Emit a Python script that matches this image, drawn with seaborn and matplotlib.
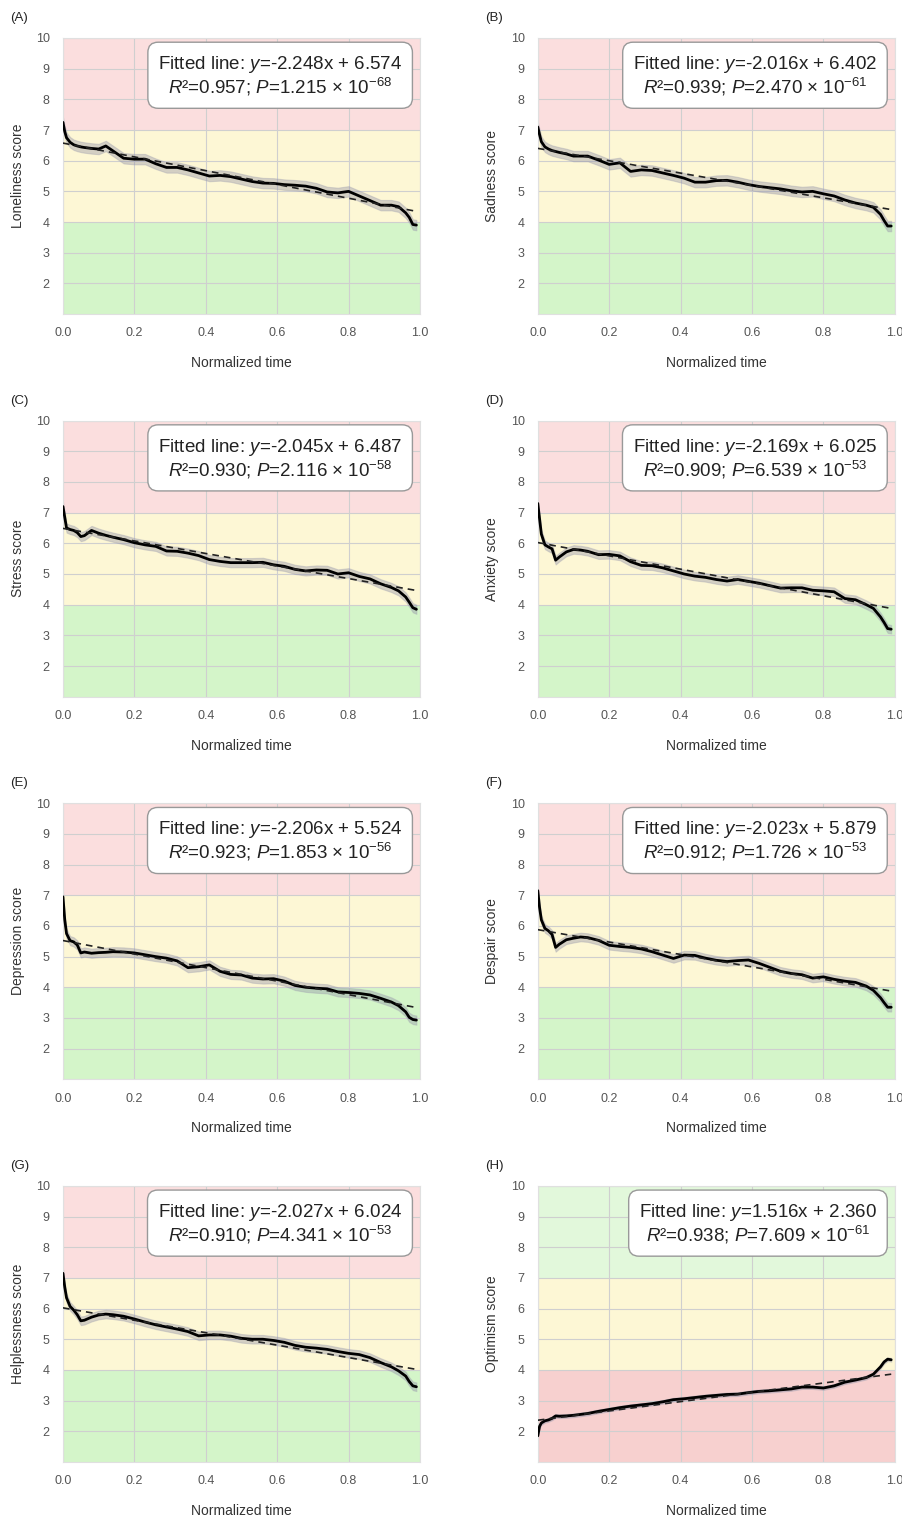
import pandas as pd
import seaborn as sns
import matplotlib.pyplot as plt

# 横軸 (正規化時間)
time_points = [0.0, 0.005, 0.01, 0.02, 0.03, 0.04, 0.05, 0.06, 0.08, 0.10, 0.12, 0.14,
               0.17, 0.20, 0.23, 0.26, 0.29, 0.32, 0.35, 0.38, 0.41, 0.44, 0.47, 0.50,
               0.53, 0.56, 0.59, 0.62, 0.65, 0.68, 0.71, 0.74, 0.77, 0.80, 0.83, 0.86,
               0.89, 0.92, 0.94, 0.96, 0.97, 0.98, 0.99]

loneliness = [7.25, 6.95, 6.75, 6.6, 6.52, 6.48, 6.45, 6.43, 6.4, 6.38, 6.48, 6.32,
              6.08, 6.05, 6.05, 5.9, 5.78, 5.78, 5.7, 5.6, 5.5, 5.52, 5.48, 5.4,
              5.32, 5.27, 5.26, 5.22, 5.2, 5.17, 5.1, 4.98, 4.95, 5.0, 4.85, 4.7,
              4.55, 4.55, 4.5, 4.3, 4.15, 3.92, 3.9]
sadness = [7.1, 6.85, 6.62, 6.45, 6.38, 6.33, 6.3, 6.27, 6.22, 6.15, 6.15, 6.15,
           6.02, 5.88, 5.93, 5.65, 5.7, 5.68, 5.6, 5.52, 5.43, 5.3, 5.3, 5.35,
           5.36, 5.3, 5.22, 5.16, 5.12, 5.08, 5.02, 4.98, 5.0, 4.92, 4.85, 4.72,
           4.62, 4.55, 4.48, 4.25, 4.05, 3.87, 3.87]
stress = [7.2, 6.85, 6.5, 6.45, 6.42, 6.35, 6.22, 6.25, 6.42, 6.33, 6.26, 6.2,
          6.12, 6.02, 5.95, 5.9, 5.75, 5.74, 5.68, 5.6, 5.47, 5.41, 5.37, 5.37,
          5.37, 5.38, 5.3, 5.25, 5.15, 5.1, 5.13, 5.12, 5.0, 5.04, 4.92, 4.84,
          4.68, 4.56, 4.45, 4.25, 4.08, 3.9, 3.85]
anxiety = [7.3, 6.8, 6.3, 5.95, 5.88, 5.82, 5.45, 5.55, 5.72, 5.8, 5.78, 5.74,
           5.63, 5.64, 5.59, 5.4, 5.28, 5.27, 5.2, 5.1, 5.0, 4.93, 4.89, 4.82,
           4.77, 4.82, 4.76, 4.7, 4.62, 4.54, 4.55, 4.55, 4.47, 4.45, 4.42, 4.2,
           4.16, 4.0, 3.88, 3.6, 3.42, 3.22, 3.2]
depression = [6.95, 6.2, 5.75, 5.52, 5.48, 5.38, 5.12, 5.15, 5.11, 5.13, 5.14, 5.16,
              5.15, 5.12, 5.06, 5.0, 4.95, 4.86, 4.64, 4.67, 4.73, 4.52, 4.42, 4.4,
              4.3, 4.27, 4.28, 4.2, 4.06, 4.0, 3.97, 3.95, 3.85, 3.83, 3.8, 3.75,
              3.64, 3.52, 3.4, 3.2, 3.02, 2.95, 2.93]
despair = [7.15, 6.6, 6.2, 5.92, 5.84, 5.72, 5.3, 5.4, 5.55, 5.6, 5.64, 5.62,
           5.53, 5.37, 5.33, 5.3, 5.25, 5.16, 5.05, 4.94, 5.05, 5.04, 4.95, 4.88,
           4.84, 4.87, 4.89, 4.78, 4.65, 4.52, 4.45, 4.41, 4.3, 4.34, 4.26, 4.2,
           4.16, 4.04, 3.9, 3.66, 3.5, 3.35, 3.35]
helplessness = [7.15, 6.7, 6.35, 6.07, 5.95, 5.8, 5.6, 5.62, 5.72, 5.79, 5.82, 5.8,
                5.75, 5.66, 5.56, 5.47, 5.4, 5.33, 5.25, 5.11, 5.14, 5.14, 5.1, 5.03,
                5.0, 5.0, 4.96, 4.9, 4.8, 4.74, 4.71, 4.67, 4.6, 4.54, 4.5, 4.4,
                4.24, 4.1, 3.97, 3.8, 3.62, 3.48, 3.45]
optimism = [1.85, 2.16, 2.27, 2.34, 2.37, 2.42, 2.5, 2.49, 2.5, 2.52, 2.55, 2.58,
            2.65, 2.71, 2.77, 2.82, 2.86, 2.9, 2.96, 3.03, 3.06, 3.1, 3.14, 3.17,
            3.2, 3.21, 3.26, 3.3, 3.32, 3.35, 3.38, 3.44, 3.44, 3.41, 3.48, 3.6,
            3.67, 3.75, 3.86, 4.1, 4.26, 4.35, 4.33]

panel_labels = ['(A)', '(B)', '(C)', '(D)', '(E)', '(F)', '(G)', '(H)']
score_names = ['Loneliness score', 'Sadness score', 'Stress score', 'Anxiety score',
               'Depression score', 'Despair score', 'Helplessness score', 'Optimism score']
series = [loneliness, sadness, stress, anxiety, depression, despair, helplessness, optimism]
ci_half = [0.17, 0.17, 0.15, 0.14, 0.15, 0.14, 0.14, 0.06]
slopes = [-2.248, -2.016, -2.045, -2.169, -2.206, -2.023, -2.027, 1.516]
intercepts = [6.574, 6.402, 6.487, 6.025, 5.524, 5.879, 6.024, 2.360]
r_squared = ['0.957', '0.939', '0.930', '0.909', '0.923', '0.912', '0.910', '0.938']
p_mantissa = ['1.215', '2.470', '2.116', '6.539', '1.853', '1.726', '4.341', '7.609']
p_exponent = ['-68', '-61', '-58', '-53', '-56', '-53', '-53', '-61']

# 帯の色 (上 7-10, 中 4-7, 下 1-4)
bands_negative = ['#fbdede', '#fdf7d5', '#d4f5c9']
bands_positive = ['#e2f8db', '#fdf7d5', '#f7d0cf']

sns.set_style("whitegrid")
plt.rcParams['font.family'] = ['Liberation Sans', 'DejaVu Sans']
plt.rcParams['mathtext.fontset'] = 'custom'
plt.rcParams['mathtext.rm'] = 'Liberation Sans'
plt.rcParams['mathtext.it'] = 'Liberation Sans:italic'
plt.rcParams['mathtext.bf'] = 'Liberation Sans:bold'

fig, axes = plt.subplots(4, 2, figsize=(9.02, 15.2), dpi=100)
fig.subplots_adjust(left=0.0698, right=0.992, top=0.975, bottom=0.0382,
                    wspace=0.33, hspace=0.386)

for i, ax in enumerate(axes.flat):
    df = pd.DataFrame({'time': time_points, 'score': series[i]})
    df['lo'] = df['score'] - ci_half[i]
    df['hi'] = df['score'] + ci_half[i]
    df['fit'] = slopes[i] * df['time'] + intercepts[i]

    colors = bands_positive if i == 7 else bands_negative
    ax.axhspan(7, 10, color=colors[0], zorder=0, lw=0)
    ax.axhspan(4, 7, color=colors[1], zorder=0, lw=0)
    ax.axhspan(1, 4, color=colors[2], zorder=0, lw=0)

    ax.fill_between(df['time'], df['lo'], df['hi'], color='#8f8fa6', alpha=0.38,
                    lw=0.8, edgecolor='#a0a0b0', zorder=2)
    sns.lineplot(x='time', y='score', data=df, ax=ax, color='black', lw=2, zorder=3)
    sns.lineplot(x='time', y='fit', data=df, ax=ax, color='#222222', lw=1.2,
                 linestyle=(0, (4, 3)), zorder=4)

    ax.set_xlim(0, 1)
    ax.set_ylim(1, 10)
    ax.set_xticks([0.0, 0.2, 0.4, 0.6, 0.8, 1.0])
    ax.set_xticklabels(['0.0', '0.2', '0.4', '0.6', '0.8', '1.0'])
    ax.set_yticks(range(2, 11))
    ax.tick_params(labelsize=9, colors='#555555', pad=6)
    ax.grid(True, color='#cfcfcf', lw=0.8, zorder=1)
    ax.set_axisbelow(True)
    for sp in ax.spines.values():
        sp.set_color('#e0e0e0')

    ax.set_xlabel('Normalized time', fontsize=10, color='#333333', labelpad=12)
    ax.set_ylabel(score_names[i], fontsize=10, color='#333333', labelpad=8)

    ax.text(-0.148, 1.072, panel_labels[i], transform=ax.transAxes, fontsize=9.5,
            color='#222222', ha='left', va='center')

    txt = (f"Fitted line: $y$={slopes[i]:.3f}x + {intercepts[i]:.3f}\n"
           f"$R$²={r_squared[i]}; $P$={p_mantissa[i]} × 10$^{{{p_exponent[i]}}}$")
    ax.text(0.95, 0.942, txt, transform=ax.transAxes, ha='right', va='top',
            fontsize=13.5, color='#222222', multialignment='center', zorder=5,
            linespacing=1.05,
            bbox=dict(boxstyle='round,pad=0.55', fc='white', ec='#999999', lw=1))

plt.savefig('out.png', dpi=100)
